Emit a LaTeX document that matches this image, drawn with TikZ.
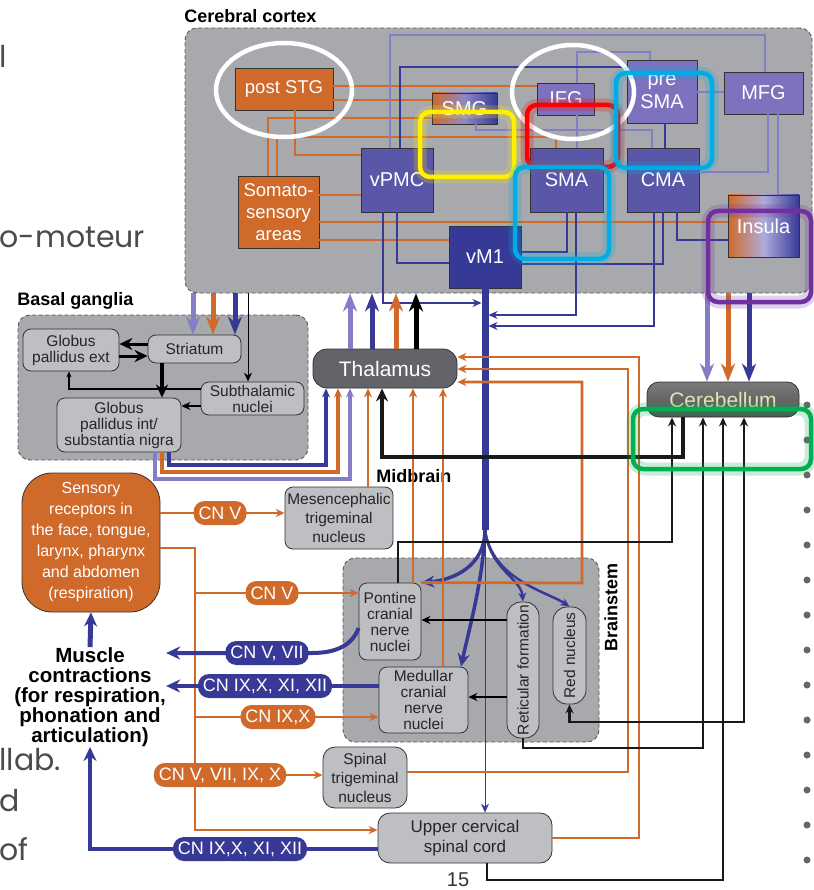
\documentclass[tikz,border=0pt]{standalone}
\usepackage{fontspec}
\setmainfont{Liberation Sans}
\newfontfamily\slidefont{Poppins}
\usetikzlibrary{arrows.meta}
\tikzset{every picture/.style={line width=0.75pt}}
\definecolor{ctxgray}{RGB}{167,169,172}
\definecolor{orng}{RGB}{208,106,42}
\definecolor{dblue}{RGB}{54,58,150}
\definecolor{mblue}{RGB}{90,86,168}
\definecolor{lpurp}{RGB}{124,114,190}
\definecolor{lav}{RGB}{132,126,200}
\definecolor{nodegray}{RGB}{190,191,194}
\definecolor{thalgray}{RGB}{98,100,105}
\definecolor{cbtext}{RGB}{222,230,180}
\definecolor{hlyellow}{RGB}{255,240,0}
\definecolor{hlred}{RGB}{250,0,0}
\definecolor{hlcyan}{RGB}{0,172,228}
\definecolor{hlpurple}{RGB}{112,48,160}
\definecolor{hlgreen}{RGB}{0,176,80}

\begin{document}
\begin{tikzpicture}[x=1pt,y=1pt,yscale=-1,xscale=1,
  region/.style={draw=black!65, dash pattern=on 4pt off 2.5pt, line width=0.9pt, fill=ctxgray, rounded corners=12pt},
  area/.style={draw=black!80, line width=0.8pt, text=white, align=center, inner sep=0pt, font=\fontsize{20}{23}\selectfont},
  nucl/.style={draw=black!80, line width=0.8pt, fill=nodegray, text=black!85, align=center, inner sep=0pt, rounded corners=8pt, font=\fontsize{15.5}{16}\selectfont},
  pillO/.style={fill=orng, rounded corners=11pt, minimum height=24pt, inner xsep=5pt, inner ysep=0pt, text=white, font=\fontsize{18}{18}\selectfont},
  pillB/.style={pillO, fill=dblue},
  ttl/.style={font=\bfseries\fontsize{18}{20}\selectfont, inner sep=0pt},
  orL/.style={draw=orng, line width=2.8pt},
  lavL/.style={draw=lav, line width=2pt},
  bluL/.style={draw=dblue, line width=2pt},
  blkL/.style={draw=black!90, line width=2.5pt},
  cnB/.style={draw=dblue, line width=4pt},
  fat/.style={line width=5pt, -{Stealth[length=18pt,width=14pt]}},
  tipS/.style={-{Stealth[length=9pt,width=8pt]}},
  tipM/.style={-{Stealth[length=13pt,width=12pt]}},
  hl/.style={rounded corners=10pt, line width=4.5pt},
  halo/.style={rounded corners=12pt, line width=13pt, opacity=0.22},
  slide/.style={anchor=west, inner sep=0pt, text=black!70, font=\slidefont\fontsize{30}{30}\selectfont}
]
\fill[white] (0,0) rectangle (813,890);
\useasboundingbox (0,0) rectangle (813,890);

% Slide text behind the figure
\node[slide] (sl1) at (-1,56) {l};
\node[slide] (sl2) at (-1,237) {o-moteur};
\node[slide] (sl3) at (-1,760) {llab.};
\node[slide] (sl4) at (-1,801) {d};
\node[slide] (sl5) at (-1,849) {of};
\fill[black!60] (807,405) circle (3.5) (807,440) circle (3.5) (807,475) circle (3.5) (807,510) circle (3.5) (807,545) circle (3.5) (807,580) circle (3.5) (807,615) circle (3.5) (807,650) circle (3.5) (807,685) circle (3.5) (807,720) circle (3.5) (807,755) circle (3.5) (807,790) circle (3.5) (807,825) circle (3.5) (807,860) circle (3.5);

%Shape: Regions
\node[region, minimum width=627, minimum height=265] (cortex) at (498.5,160.5) {};
\node[region, minimum width=290, minimum height=145] (basal) at (163,387.5) {};
\node[region, minimum width=256, minimum height=184] (brainstem) at (471,650) {};

% Text Node
\node[ttl, anchor=west] (ctxlbl) at (184,16) {Cerebral cortex};
\node[ttl, anchor=west] (bglbl) at (17,301) {Basal ganglia};
\node[ttl, anchor=west] (mblbl) at (376,476) {Midbrain};
\node[ttl] (bslbl) at (611,607) {\rotatebox{90}{Brainstem}};

%Shape: Cortical areas
\node[area, fill=orng, minimum width=98, minimum height=42, font=\fontsize{18.5}{20}\selectfont] (postSTG) at (284,89) {post STG};
\node[area, left color=orng, right color=dblue, middle color=lpurp!85!white, minimum width=65, minimum height=31] (SMG) at (464.5,108.5) {SMG};
\node[area, fill=lpurp, minimum width=57, minimum height=32] (IFG) at (566,99) {IFG};
\node[area, fill=lpurp, minimum width=70, minimum height=63] (preSMA) at (662,91.5) {pre\\SMA};
\node[area, fill=lpurp, minimum width=79, minimum height=42] (MFG) at (763.5,93) {MFG};
\node[area, fill=mblue, minimum width=72, minimum height=64] (vPMC) at (397,180) {vPMC};
\node[area, fill=mblue, minimum width=73, minimum height=64] (SMA) at (566.5,180) {SMA};
\node[area, fill=mblue, minimum width=72, minimum height=64] (CMA) at (663,180) {CMA};
\node[area, left color=orng, right color=dblue, middle color=lav!65!white, minimum width=71, minimum height=62] (insula) at (763.5,226) {Insula};
\node[area, fill=orng, minimum width=81, minimum height=72, font=\fontsize{18.5}{22}\selectfont] (somato) at (278.5,212) {Somato-\\sensory\\areas};
\node[area, fill=dblue, minimum width=72, minimum height=62] (vM1) at (485,257) {vM1};

%Shape: Basal ganglia nuclei
\node[nucl, minimum width=96, minimum height=42] (GPe) at (71,350) {Globus\\pallidus ext};
\node[nucl, minimum width=93, minimum height=28] (striatum) at (194.5,349) {Striatum};
\node[nucl, minimum width=103, minimum height=33] (subthal) at (252.5,398.5) {Subthalamic\\nuclei};
\node[nucl, minimum width=124, minimum height=54] (GPi) at (119,425) {Globus\\pallidus int/\\substantia nigra};

%Shape: Thalamus, cerebellum
\node[area, fill=thalgray, rounded corners=14pt, minimum width=144, minimum height=39, font=\fontsize{21}{21}\selectfont] (thalamus) at (385,368.5) {Thalamus};
\node[area, top color=black!52, bottom color=black!68, rounded corners=12pt, minimum width=152, minimum height=35, text=cbtext, font=\fontsize{21}{21}\selectfont] (cerebellum) at (723,399.5) {Cerebellum};

%Shape: Periphery and brainstem
\node[area, fill=orng, rounded corners=30pt, minimum width=138, minimum height=139, font=\fontsize{16}{21}\selectfont] (sensory) at (91,542.5) {Sensory\\receptors in\\the face, tongue,\\larynx, pharynx\\and abdomen\\(respiration)};
\node[align=center, inner sep=0pt, font=\bfseries\fontsize{20.5}{20}\selectfont] (muscle) at (90,697) {Muscle\\contractions\\(for respiration,\\phonation and\\articulation)};
\node[nucl, minimum width=108, minimum height=62, font=\fontsize{15.5}{19}\selectfont] (meso) at (339,518) {Mesencephalic\\trigeminal\\nucleus};
\node[nucl, minimum width=62, minimum height=77] (pontine) at (390,621.5) {Pontine\\cranial\\nerve\\nuclei};
\node[nucl, minimum width=89, minimum height=66] (medullar) at (423.5,700) {Medullar\\cranial\\nerve\\nuclei};
\node[nucl, rounded corners=14pt, minimum width=32, minimum height=136] (reticular) at (523,670) {\rotatebox{90}{Reticular formation}};
\node[nucl, rounded corners=14pt, minimum width=33, minimum height=97] (redn) at (569.5,655.5) {\rotatebox{90}{Red nucleus}};
\node[nucl, rounded corners=12pt, minimum width=84, minimum height=61, font=\fontsize{15.5}{19}\selectfont] (spinal) at (365,777.5) {Spinal\\trigeminal\\nucleus};
\node[nucl, rounded corners=12pt, minimum width=174, minimum height=50, font=\fontsize{17}{20}\selectfont] (upper) at (465,838) {Upper cervical\\spinal cord};

%Straight Lines: inside the cortex
\draw[orL] (postSTG.east |- 0,86) -- (IFG.west |- 0,86);
\draw[orL] (postSTG.east |- 0,100) -- (SMG.west |- 0,100);
\draw[orL] (postSTG.south -| 295,0) |- (vPMC.west |- 0,155);
\draw[orL] (somato.north -| 268,0) |- (SMG.west |- 0,118);
\draw[orL] (somato.north -| 277,0) |- (556,137) -- (SMA.north -| 556,0);
\draw[orL] (somato.east |- 0,195) -- (vPMC.west |- 0,195);
\draw[orL] (somato.east |- 0,222) -- (insula.west |- 0,222);
\draw[orL] (somato.east |- 0,240) -- (vM1.west |- 0,240);
\draw[lavL] (vPMC.north -| 390,0) |- (765,35) -- (MFG.north -| 765,0);
\draw[lavL] (IFG.north -| 577,0) |- (650,52) -- (preSMA.north -| 650,0);
\draw[lavL] (IFG.south -| 577,0) -- (SMA.north -| 577,0);
\draw[lavL] (SMG.south -| 476,0) |- (652,130) -- (CMA.north -| 652,0);
\draw[lavL] (preSMA.east |- 0,92) -- (MFG.west |- 0,92);
\draw[lavL] (MFG.south -| 768,0) |- (CMA.east |- 0,172);
\draw[lavL] (MFG.south -| 778,0) -- (insula.north -| 778,0);
\draw[bluL] (vPMC.north -| 400,0) |- (preSMA.west |- 0,67);
\draw[bluL] (preSMA.south -| 665,0) -- (CMA.north -| 665,0);
\draw[bluL] (vPMC.south -| 397,0) |- (vM1.west |- 0,263);
\draw[bluL] (SMA.south -| 567,0) |- (vM1.east |- 0,252);
\draw[bluL] (CMA.south -| 663,0) |- (vM1.east |- 0,264);
\draw[bluL] (CMA.south -| 677,0) |- (insula.west |- 0,240);

%Straight Lines: motor output
\coordinate (trunkL) at ([xshift=-3.5pt]vM1.south);
\coordinate (trunkR) at ([xshift=3.5pt]vM1.south);
\coordinate (fan) at (485,530);
\draw[dblue, line width=7pt] (vM1.south) -- (fan);
\draw[bluL, tipS] (vPMC.south -| 383,0) |- (trunkL |- 0,303);
\draw[bluL, tipS] (SMA.south -| 576,0) |- (trunkR |- 0,315);
\draw[bluL, tipS] (CMA.south -| 654,0) |- (trunkR |- 0,326);
%Curve Lines: fan into the brainstem
\draw[dblue, line width=3.5pt, tipM] (fan) .. controls (485,565) and (455,580) .. (pontine.north east);
\draw[dblue, line width=3.5pt, tipM] (fan) .. controls (483,580) and (470,625) .. (medullar.north -| 461,0);
\draw[dblue, line width=2.5pt, tipS] (fan) .. controls (490,570) and (521,578) .. (reticular.north);
\draw[dblue, line width=2.5pt, tipS] (fan) .. controls (492,580) and (548,592) .. (redn.north);
\draw[dblue, line width=1pt, tipS] (fan) -- (fan |- upper.north);

%Straight Lines: cortex to subcortex
\draw[lav, fat] (cortex.south -| 193,0) -- (striatum.north -| 193,0);
\draw[orng, fat] (cortex.south -| 213,0) -- (striatum.north -| 213,0);
\draw[dblue, fat] (cortex.south -| 235,0) -- (striatum.north -| 235,0);
\draw[black, line width=1pt, tipS] (cortex.south -| 248,0) -- (subthal.north -| 248,0);
\draw[lav, fat] (thalamus.north -| 350,0) -- (cortex.south -| 350,0);
\draw[dblue, fat] (thalamus.north -| 372,0) -- (cortex.south -| 372,0);
\draw[orng, fat] (thalamus.north -| 396,0) -- (cortex.south -| 396,0);
\draw[black, fat] (thalamus.north -| 416,0) -- (cortex.south -| 416,0);
\draw[lav, fat] (cortex.south -| 707,0) -- (cerebellum.north -| 707,0);
\draw[orng, fat] (cortex.south -| 728,0) -- (cerebellum.north -| 728,0);
\draw[dblue, fat] (cortex.south -| 749,0) -- (cerebellum.north -| 749,0);

%Straight Lines: basal ganglia
\draw[black, line width=3pt, tipM] (striatum.west |- 0,344) -- (GPe.east |- 0,344);
\draw[black, line width=3pt, tipM] (GPe.east |- 0,356) -- (striatum.west |- 0,356);
\draw[black, line width=3.5pt, tipM] (striatum.south -| 162,0) -- (GPi.north -| 162,0);
\draw[black, line width=2.5pt, tipS] (subthal.west |- 0,406) -- (GPi.east |- 0,406);
\draw[black, line width=2.5pt, -{Stealth[length=6pt,width=5pt]}] (subthal.west |- 0,389) -| (GPe.south -| 69,0);
\draw[lav, line width=3.5pt, tipS] (GPi.south -| 155,0) |- (350,479) -- (thalamus.south -| 350,0);
\draw[orng, line width=3.5pt, tipS] (GPi.south -| 162,0) |- (338,472) -- (thalamus.south -| 338,0);
\draw[dblue, line width=3.5pt, tipS] (GPi.south -| 169,0) |- (326,465) -- (thalamus.south -| 326,0);

%Straight Lines: ascending sensory paths
\draw[orL, tipS] (meso.north -| 368,0) -- (thalamus.south -| 368,0);
\draw[orL, tipS] (pontine.north -| 413,0) -- (thalamus.south -| 413,0);
\draw[orL, tipS] (medullar.north -| 443,0) -- (thalamus.south -| 443,0);
\draw[orL, tipS] (pontine.north east) -- (582,583) |- (thalamus.east |- 0,382);
\draw[orL, tipS] (spinal.east |- 0,772) -| (628,369) -- (thalamus.east |- 0,369);
\draw[orL, tipS] (upper.east |- 0,838) -| (639,357) -- (thalamus.east |- 0,357);

%Straight Lines: cerebellar loops
\draw[blkL, line width=3.5pt, tipM] (cerebellum.south -| 683,0) |- (382,457) -- (thalamus.south -| 382,0);
\draw[blkL, tipS] (pontine.north -| 398,0) |- (672,542) -- (cerebellum.south -| 672,0);
\draw[blkL, tipS] (reticular.south) |- (703,748) -- (cerebellum.south -| 703,0);
\draw[blkL, {Stealth[length=9pt,width=8pt]}-{Stealth[length=9pt,width=8pt]}] (redn.south) |- (744,722) -- (cerebellum.south -| 744,0);
\draw[blkL, tipS] (upper.south -| 487,0) |- (723,880) -- (cerebellum.south -| 723,0);
\draw[black, line width=2pt, tipS] (reticular.west |- 0,620) -- (pontine.east |- 0,620);
\draw[black, line width=2pt, tipS] (reticular.west |- 0,697) -- (medullar.east |- 0,697);

%Straight Lines: cranial nerves
\coordinate (trig) at (195,548);
\draw[orL, tipS] (sensory.east |- 0,513) -- (meso.west |- 0,513);
\draw[orL, tipS] (sensory.east |- trig) -| (trig |- 0,830) -- (upper.west |- 0,830);
\draw[orL, tipS] (trig |- 0,593) -- (pontine.west |- 0,593);
\draw[orL, tipS] (trig |- 0,717) -- (medullar.west |- 0,717);
\draw[orL, tipS] (trig |- 0,775) -- (spinal.west |- 0,775);
\draw[cnB, -{Stealth[length=14pt,width=13pt]}] (pontine.west |- 0,628) .. controls (352,646) and (335,653) .. (312,653) -- (muscle.east |- 0,653);
\draw[cnB, -{Stealth[length=14pt,width=13pt]}] (medullar.west |- 0,686) -- (muscle.east |- 0,686);
\draw[cnB, -{Stealth[length=14pt,width=13pt]}] (upper.west |- 0,849) -| (muscle.south);
\draw[dblue, line width=5pt, -{Stealth[length=14pt,width=13pt]}] (muscle.north) -- (sensory.south);

% Text Node
\node[pillO] (cnvA) at (220,513) {CN V};
\node[pillO] (cnvB) at (272,593) {CN V};
\node[pillB] (cnvvii) at (267,653) {CN V, VII};
\node[pillB] (cnixA) at (265,686) {CN IX,X, XI, XII};
\node[pillO] (cnixB) at (278,717) {CN IX,X};
\node[pillO] (cnvall) at (220,775) {CN V, VII, IX, X};
\node[pillB] (cnixC) at (240,849) {CN IX,X, XI, XII};
\node[font=\fontsize{20}{20}\selectfont, text=black!80] (pgnum) at (458,880) {15};

%Shape: Highlights
\draw[white, line width=4.5pt] (284,90) ellipse [x radius=68, y radius=47];
\draw[white, line width=4.5pt] (573,92) ellipse [x radius=61, y radius=47];
\draw[halo, hlyellow] (420,112) rectangle (514,177);
\draw[hl, hlyellow] (420,112) rectangle (514,177);
\draw[halo, hlred] (527,105) rectangle (618,167);
\draw[hl, hlred] (527,105) rectangle (618,167);
\draw[halo, hlcyan] (616,73) rectangle (712,168);
\draw[hl, hlcyan] (616,73) rectangle (712,168);
\draw[halo, hlcyan] (515,167) rectangle (609,259);
\draw[hl, hlcyan] (515,167) rectangle (609,259);
\draw[halo, hlpurple] (708,211) rectangle (811,302);
\draw[hl, hlpurple] (708,211) rectangle (811,302);
\draw[halo, hlgreen] (633,409) rectangle (811,469);
\draw[hl, hlgreen] (633,409) rectangle (811,469);

\end{tikzpicture}
\end{document}
